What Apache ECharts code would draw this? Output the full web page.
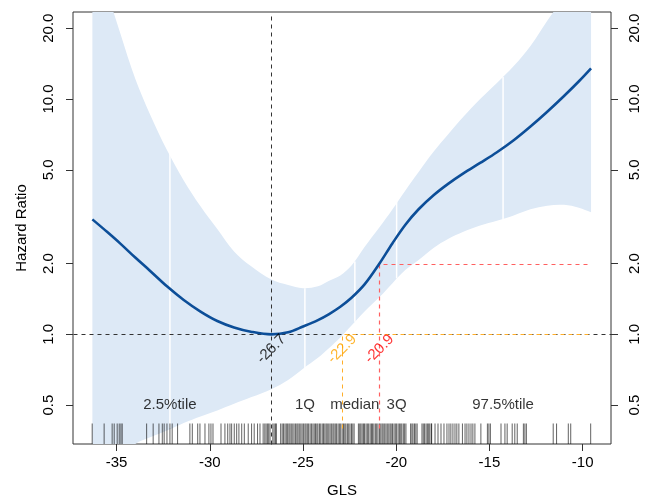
<!DOCTYPE html>
<html>
<head>
    <meta charset="utf-8">
    <title>Hazard Ratio - GLS</title>
    <script src="https://cdn.jsdelivr.net/npm/echarts@6/dist/echarts.min.js"></script>
</head>
<body style="margin:0">
<div id="main" style="width: 654px;height:500px;"></div>
<script type="text/javascript">
    // spline fit: x grid, hazard ratio and 95% CI
    var gls = [-36.3, -35.5, -34.8, -34.0, -33.2, -32.3, -31.4, -30.5, -29.6, -28.7, -27.8, -26.7,
        -25.8, -25.0, -24.2, -23.6, -23.0, -22.4, -21.7, -20.9, -20.2, -19.5, -18.8, -18.0,
        -17.2, -16.4, -15.5, -14.6, -13.7, -12.8, -11.9, -11.0, -10.2, -9.55];
    var hr = [3.08, 2.72, 2.43, 2.12, 1.86, 1.60, 1.40, 1.25, 1.14, 1.07, 1.026, 1.00,
        1.02, 1.08, 1.15, 1.22, 1.31, 1.43, 1.63, 2.00, 2.44, 2.93, 3.40, 3.90,
        4.37, 4.83, 5.35, 5.94, 6.68, 7.64, 8.83, 10.3, 11.9, 13.5];
    var hrUpper = [60, 29, 19.0, 12.2, 8.58, 6.07, 4.51, 3.5, 2.8, 2.25, 1.95, 1.71,
        1.62, 1.57, 1.60, 1.69, 1.78, 1.96, 2.35, 2.85, 3.40, 4.10, 4.90, 5.97,
        7.10, 8.40, 10.0, 11.7, 13.8, 16.8, 21.5, 27, 33, 38];
    var hrLower = [0.22, 0.26, 0.30, 0.342, 0.365, 0.39, 0.42, 0.448, 0.475, 0.507, 0.54, 0.585,
        0.64, 0.715, 0.795, 0.875, 0.97, 1.09, 1.25, 1.44, 1.65, 1.88, 2.07, 2.33,
        2.55, 2.73, 2.90, 3.04, 3.20, 3.40, 3.52, 3.55, 3.45, 3.30];

    // quantile markers (white lines span the CI at each quantile)
    var quantX = [-32.14, -24.9, -22.22, -19.98, -14.27];
    var quantLow = [0.40, 0.716, 1.13, 1.73, 3.08];
    var quantHigh = [6.0, 1.57, 2.04, 3.66, 12.4];
    var quantNames = ['2.5%tile', '1Q', 'median', '3Q', '97.5%tile'];

    // reference points
    var minX = -26.7, minLabel = '-26.7';
    var hr1X = -22.9, hr1Label = '-22.9';
    var hr2X = -20.9, hr2Label = '-20.9';
    var lineEndX = -9.6;

    // rug of observed GLS values
    var rug = [-36.31, -35.67, -35.24, -35.13, -34.97, -34.86, -34.77, -34.70, -33.39, -33.04,
        -32.73, -32.55, -32.45, -32.30, -32.14, -32.02, -31.73, -31.07, -30.94, -30.65,
        -30.53, -30.26, -30.05, -29.94, -29.83, -29.40, -29.19, -29.04, -28.92, -28.83,
        -28.69, -28.56, -28.44, -28.29, -28.15, -27.94, -27.76, -27.62, -27.44, -27.31,
        -27.14, -27.05, -26.98, -26.9, -26.84, -26.77, -26.62, -26.55, -26.48, -26.43,
        -26.2, -26.12, -26.05, -25.97, -25.9, -25.84, -25.76, -25.7, -25.63, -25.55,
        -25.48, -25.4, -25.33, -25.27, -25.2, -25.12, -25.05, -24.98, -24.9, -24.84,
        -24.77, -24.7, -24.62, -24.55, -24.47, -24.4, -24.33, -24.26, -24.2, -24.12,
        -24.05, -23.97, -23.9, -23.83, -23.76, -23.7, -23.62, -23.55, -23.48, -23.4,
        -23.34, -23.27, -23.2, -23.12, -23.05, -22.98, -22.9, -22.83, -22.76, -22.7,
        -22.62, -22.55, -22.48, -22.4, -22.33, -22.26, -22.03, -21.96, -21.9, -21.83,
        -21.76, -21.7, -21.62, -21.55, -21.48, -21.4, -21.33, -21.27, -21.2, -21.12,
        -21.05, -20.98, -20.9, -20.83, -20.76, -20.7, -20.62, -20.55, -20.48, -20.4,
        -20.33, -20.27, -20.2, -20.12, -20.05, -19.98, -19.9, -19.83, -19.76, -19.7,
        -19.62, -19.55, -19.48, -19.23, -19.16, -19.1, -19.02, -18.95, -18.88, -18.62,
        -18.55, -18.48, -18.4, -18.33, -18.26, -18.2, -18.12, -18.10, -17.92, -17.76,
        -17.60, -17.44, -17.28, -17.17, -17.07, -16.96, -16.85, -16.75, -16.64, -16.45,
        -16.31, -16.21, -16.10, -15.99, -15.89, -15.78, -15.46, -15.11, -15.03, -14.95,
        -14.38, -14.17, -14.05, -13.78, -13.64, -13.51, -13.18, -13.10, -13.02, -11.58,
        -11.40, -10.77, -10.64, -9.57];

    var xTicks = [-35, -30, -25, -20, -15, -10];
    var yTicks = [0.5, 1, 2, 5, 10, 20];
    var xMin = -37.34, xMax = -8.48;
    var hrMin = 0.342, hrMax = 23.43, rugTop = 0.418, dropTo = 0.4;

    var lg = function (v) { return Math.log10(v); };
    var yMin = lg(hrMin), yMax = lg(hrMax);
    var yTickVals = yTicks.map(lg);

    var curveData = gls.map(function (x, i) { return [x, lg(hr[i])]; });
    var bandData = gls.map(function (x, i) { return [x, lg(hrLower[i]), lg(hrUpper[i])]; });

    var font = 'Liberation Sans, Arial, Helvetica, sans-serif';

    function segment(color, width) {
        return function (params, api) {
            var p1 = api.coord([api.value(0), api.value(1)]);
            var p2 = api.coord([api.value(0), api.value(2)]);
            return {
                type: 'line',
                shape: {x1: p1[0], y1: p1[1], x2: p2[0], y2: p2[1]},
                style: {stroke: color, lineWidth: width}
            };
        };
    }

    // dashed guide path drawn as a custom polyline, snapped to the pixel grid
    function guide(points, color, width) {
        return {
            type: 'custom', z: 5, silent: true,
            data: points,
            renderItem: function (params, api) {
                if (params.dataIndex !== 0) return null;
                var pts = points.map(function (p) {
                    var c = api.coord(p);
                    return [Math.round(c[0]) + 0.5, Math.round(c[1]) + 0.5];
                });
                return {
                    type: 'polyline', shape: {points: pts},
                    style: {stroke: color, lineWidth: width, lineDash: [4, 4], fill: null}
                };
            }
        };
    }

    function yAxisDef(pos, margin) {
        return {
            type: 'value', position: pos, min: yMin, max: yMax,
            axisLine: {show: false}, splitLine: {show: false},
            axisTick: {show: true, customValues: yTickVals, length: 7, lineStyle: {color: '#333'}},
            axisLabel: {
                customValues: yTickVals, rotate: 90, margin: margin,
                fontSize: 15, fontFamily: font, color: '#000',
                formatter: function (v) { return Math.pow(10, v).toFixed(1); }
            }
        };
    }

    var myChart = echarts.init(document.getElementById('main'));
    var yLeft = yAxisDef('left', 17);
    yLeft.name = 'Hazard Ratio';
    yLeft.nameLocation = 'middle';
    yLeft.nameGap = 44;
    yLeft.nameTextStyle = {fontSize: 15, fontFamily: font, color: '#000'};

    var option = {
        animation: false,
        grid: {left: 73, right: 43, top: 12, bottom: 56, outerBoundsMode: 'none',
            show: true, borderColor: '#333', borderWidth: 1},
        xAxis: {
            type: 'value', min: xMin, max: xMax,
            axisLine: {show: false, onZero: false}, splitLine: {show: false},
            axisTick: {show: true, customValues: xTicks, length: 7, lineStyle: {color: '#333'}},
            axisLabel: {customValues: xTicks, margin: 11, fontSize: 15, fontFamily: font, color: '#000'},
            name: 'GLS', nameLocation: 'middle', nameGap: 39,
            nameTextStyle: {fontSize: 15, fontFamily: font, color: '#000'}
        },
        yAxis: [yLeft, yAxisDef('right', 16)],
        series: [
            {
                // confidence band as one smoothed polygon; corner points doubled to keep them sharp
                type: 'custom', z: 1, silent: true, clip: true,
                data: bandData,
                renderItem: function (params, api) {
                    if (params.dataIndex !== 0) return null;
                    var n = bandData.length;
                    var up = [], lo = [];
                    for (var i = 0; i < n; i++) {
                        up.push(api.coord([bandData[i][0], bandData[i][2]]));
                        lo.push(api.coord([bandData[i][0], bandData[i][1]]));
                    }
                    lo.reverse();
                    var pts = [up[0]].concat(up, [up[n - 1]], [lo[0]], lo, [lo[n - 1]]);
                    return {type: 'polygon', shape: {points: pts, smooth: 0.35}, style: {fill: '#dde9f6'}};
                }
            },
            {
                type: 'custom', z: 2, silent: true, clip: true,
                data: quantX.map(function (x, i) { return [x, lg(quantLow[i]), lg(quantHigh[i])]; }),
                renderItem: segment('#ffffff', 1.5)
            },
            {
                type: 'custom', z: 3, silent: true,
                data: rug.map(function (x) { return [x, yMin, lg(rugTop)]; }),
                renderItem: segment('rgba(0,0,0,0.62)', 1)
            },
            {
                type: 'scatter', z: 4, silent: true, symbolSize: 1, itemStyle: {color: 'rgba(0,0,0,0)'},
                data: quantX.map(function (x, i) { return [x, lg(0.5), quantNames[i]]; }),
                label: {show: true, position: 'inside', fontSize: 15, fontFamily: font, color: '#000',
                    formatter: function (p) { return p.data[2]; }}
            },
            guide([[minX, yMin], [minX, yMax]], '#333', 1),
            guide([[xMin, 0], [xMax, 0]], '#333', 1),
            guide([[hr1X, lg(dropTo)], [hr1X, 0], [lineEndX, 0]], '#ffae2a', 1),
            guide([[hr2X, lg(dropTo)], [hr2X, lg(2)], [lineEndX, lg(2)]], '#ff6060', 1.2),
            {
                type: 'line', z: 6, symbol: 'none', smooth: 0.35, silent: true,
                data: curveData,
                lineStyle: {color: '#0c4e98', width: 2.6}
            },
            {
                type: 'scatter', z: 7, silent: true, symbolSize: 1, itemStyle: {color: 'rgba(0,0,0,0)'},
                data: [
                    {value: [minX, lg(0.866), minLabel], label: {color: '#000'}},
                    {value: [hr1X, lg(0.866), hr1Label], label: {color: '#ffa500'}},
                    {value: [hr2X, lg(0.866), hr2Label], label: {color: '#ff0000'}}
                ],
                label: {show: true, position: 'inside', rotate: 45, fontSize: 15, fontFamily: font,
                    formatter: function (p) { return p.data.value[2]; }}
            }
        ]
    };
    myChart.setOption(option);
</script>
</body>
</html>
